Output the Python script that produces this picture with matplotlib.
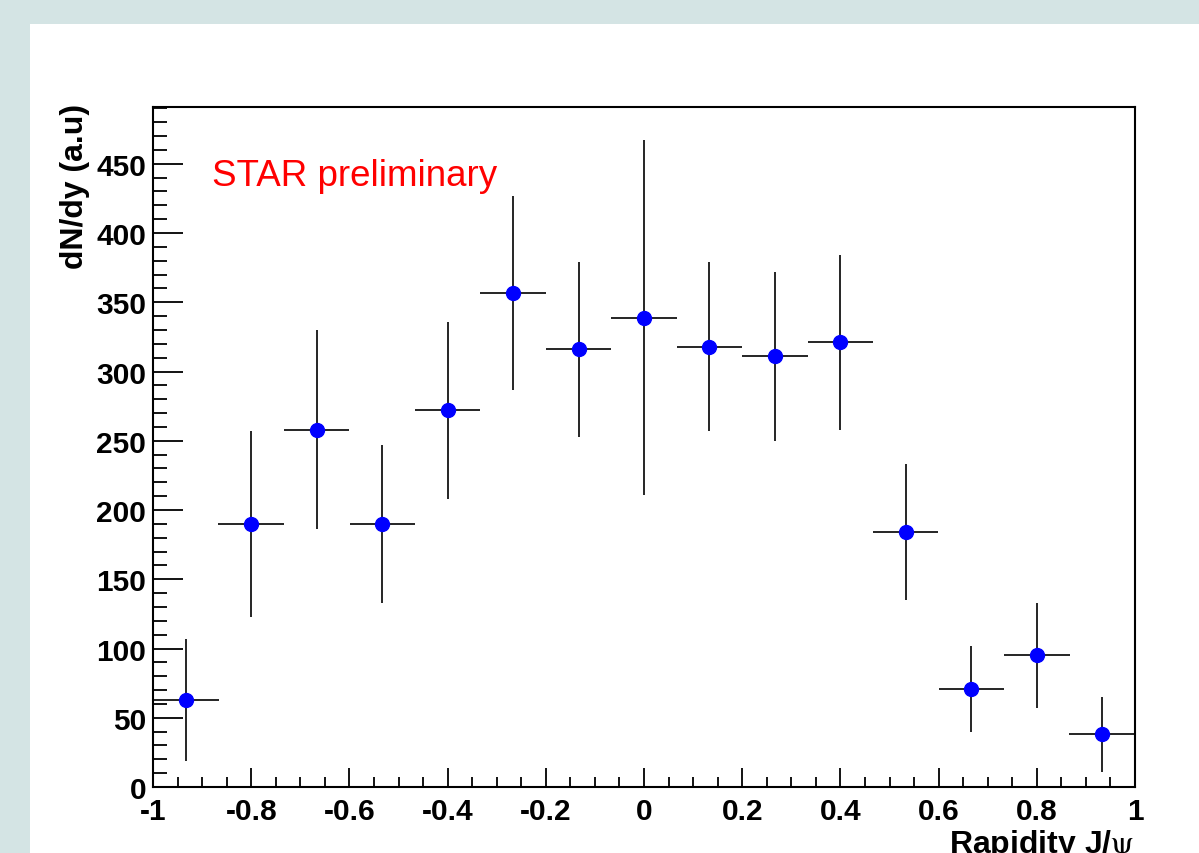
import numpy as np
import matplotlib.pyplot as plt
from matplotlib.patches import Rectangle
from matplotlib.ticker import MultipleLocator

# data
rapidity = [-0.933, -0.8, -0.667, -0.533, -0.4, -0.267, -0.133, 0.0,
            0.133, 0.267, 0.4, 0.533, 0.667, 0.8, 0.933]
dndy = [63, 190, 258, 190, 272, 357, 316, 339, 318, 311, 321, 184, 71, 95, 38]
dndy_err = [44, 67, 72, 57, 64, 70, 63, 128, 61, 61, 63, 49, 31, 38, 27]
bin_half = [0.0667] * len(rapidity)
xtick_labels = ["-1", "-0.8", "-0.6", "-0.4", "-0.2", "0", "0.2", "0.4",
                "0.6", "0.8", "1"]

W, H = 1199, 854
plt.rcParams["font.family"] = ["Liberation Sans", "DejaVu Sans"]
plt.rcParams["mathtext.fontset"] = "stix"

fig = plt.figure(figsize=(W / 100, H / 100), dpi=100)
fig.patch.set_facecolor("#d4e4e4")
# white pad on top of the grey backdrop
bg = Rectangle((30 / W, 0), 1 - 30 / W, (H - 25) / H,
               transform=fig.transFigure, fc="white", ec="none", zorder=-10)
fig.add_artist(bg)

ax = fig.add_axes([153 / W, (H - 788) / H, (1135 - 153) / W, (788 - 108) / H])
ax.set_zorder(5)
ax.set_facecolor("white")

ax.errorbar(rapidity, dndy, xerr=bin_half, yerr=dndy_err, fmt="o",
            color="black", ecolor="black", elinewidth=1.2, capsize=0,
            markerfacecolor="#0000ff", markeredgecolor="#0000ff", markersize=10)

ax.set_xlim(-1, 1)
ax.set_ylim(0, 491)

ax.set_xticks(np.linspace(-1, 1, len(xtick_labels)))
ax.set_xticklabels(xtick_labels)
ax.xaxis.set_minor_locator(MultipleLocator(0.05))
ax.yaxis.set_major_locator(MultipleLocator(50))
ax.yaxis.set_minor_locator(MultipleLocator(10))

ax.tick_params(axis="both", which="both", direction="in", width=1.3, colors="black")
ax.tick_params(axis="x", which="major", length=14, pad=7, labelsize=21.5)
ax.tick_params(axis="x", which="minor", length=7)
ax.tick_params(axis="y", which="major", length=21.5, pad=5, labelsize=21.5)
ax.tick_params(axis="y", which="minor", length=10)
for lab in ax.get_xticklabels() + ax.get_yticklabels():
    lab.set_fontweight("bold")

for sp in ax.spines.values():
    sp.set_linewidth(1.5)

ax.text(212 / W, 1 - 186 / H, "STAR preliminary", transform=fig.transFigure,
        color="red", fontsize=26.5, ha="left", va="baseline")

fig.text(75 / W, 1 - 104 / H, "dN/dy (a.u)", rotation=90, ha="center", va="top",
         fontsize=23, fontweight="bold")
fig.text(1135 / W, 1 / H, r"Rapidity J/$\mathrm{\psi}$", ha="right", va="baseline",
         fontsize=23, fontweight="bold")

fig.savefig("out.png", dpi=100, facecolor=fig.get_facecolor())
